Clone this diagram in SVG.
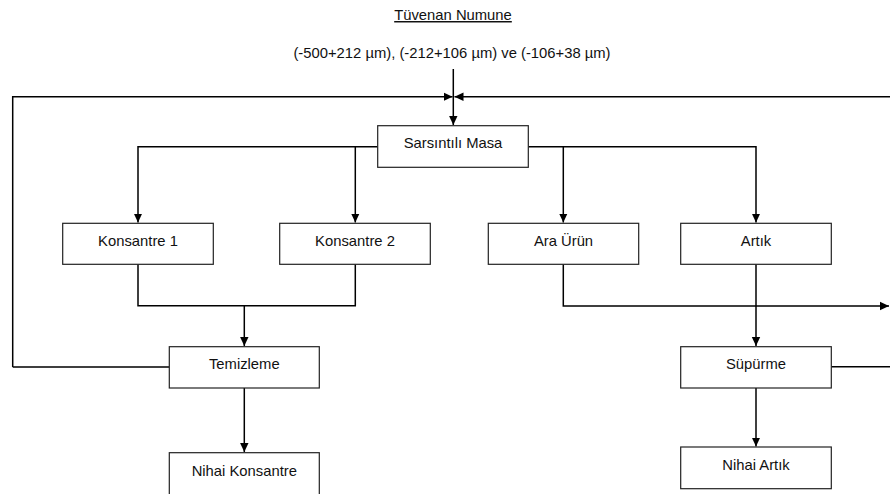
<svg xmlns="http://www.w3.org/2000/svg" width="890" height="494" viewBox="0 0 890 494">
<style>
.box{fill:#fff;stroke:#222;stroke-width:1.2}
.t{font-family:"Liberation Sans",Arial,sans-serif;font-size:14.8px;fill:#111;text-anchor:middle}
.c{fill:none;stroke:#000;stroke-width:1.5}
</style>
<defs>
<marker id="ah" markerUnits="userSpaceOnUse" markerWidth="10" markerHeight="10" refX="9" refY="5" orient="auto">
<path d="M0,0.8 L9,5 L0,9.2 Z" fill="#000"/>
</marker>
</defs>
<rect width="890" height="494" fill="#fff"/>
<g id="title">
<text class="t" x="453" y="20" text-decoration="underline">Tüvenan Numune</text>
<text class="t" x="452" y="58">(-500+212 µm), (-212+106 µm) ve (-106+38 µm)</text>
</g>
<g id="connectors">
<path class="c" d="M453.3,69 V125" marker-end="url(#ah)"/>
<path class="c" d="M12.7,367 H169.3 M12.7,367 V96.7 H452.5" marker-end="url(#ah)"/>
<path class="c" d="M890,96.7 H454.5" marker-end="url(#ah)"/>
<path class="c" d="M377.7,146.7 H138 V222.5" marker-end="url(#ah)"/>
<path class="c" d="M355.3,146.7 V222.5" marker-end="url(#ah)"/>
<path class="c" d="M528.3,146.7 H756 V222.5" marker-end="url(#ah)"/>
<path class="c" d="M563.3,146.7 V222.5" marker-end="url(#ah)"/>
<path class="c" d="M138,264.3 V305.7 H355.3 V264.3"/>
<path class="c" d="M244.3,305.7 V346" marker-end="url(#ah)"/>
<path class="c" d="M244.3,388 V452" marker-end="url(#ah)"/>
<path class="c" d="M563.3,264.3 V306 H889" marker-end="url(#ah)"/>
<path class="c" d="M756,264.3 V346" marker-end="url(#ah)"/>
<path class="c" d="M756,388 V446.5" marker-end="url(#ah)"/>
<path class="c" d="M831.3,366.7 H890"/>
</g>
<g id="sarsintili-masa">
<rect class="box" x="377.7" y="125.7" width="150.6" height="41.6"/>
<text class="t" x="453" y="148">Sarsıntılı Masa</text>
</g>
<g id="konsantre-1">
<rect class="box" x="62.7" y="223.3" width="150.6" height="41"/>
<text class="t" x="138" y="246">Konsantre 1</text>
</g>
<g id="konsantre-2">
<rect class="box" x="279.7" y="223.3" width="150.6" height="41"/>
<text class="t" x="355" y="246">Konsantre 2</text>
</g>
<g id="ara-urun">
<rect class="box" x="488.3" y="223.3" width="150.4" height="41"/>
<text class="t" x="563.5" y="246">Ara Ürün</text>
</g>
<g id="artik">
<rect class="box" x="680.7" y="223.3" width="150.6" height="41"/>
<text class="t" x="756" y="246">Artık</text>
</g>
<g id="temizleme">
<rect class="box" x="169.3" y="346.7" width="150" height="41.3"/>
<text class="t" x="244.3" y="369.3">Temizleme</text>
</g>
<g id="supurme">
<rect class="box" x="680.7" y="346.7" width="150.6" height="41.3"/>
<text class="t" x="756" y="369.3">Süpürme</text>
</g>
<g id="nihai-konsantre">
<rect class="box" x="169.3" y="452.7" width="150" height="50"/>
<text class="t" x="244.3" y="476">Nihai Konsantre</text>
</g>
<g id="nihai-artik">
<rect class="box" x="680.7" y="447" width="150.6" height="41.7"/>
<text class="t" x="756" y="470">Nihai Artık</text>
</g>
</svg>
